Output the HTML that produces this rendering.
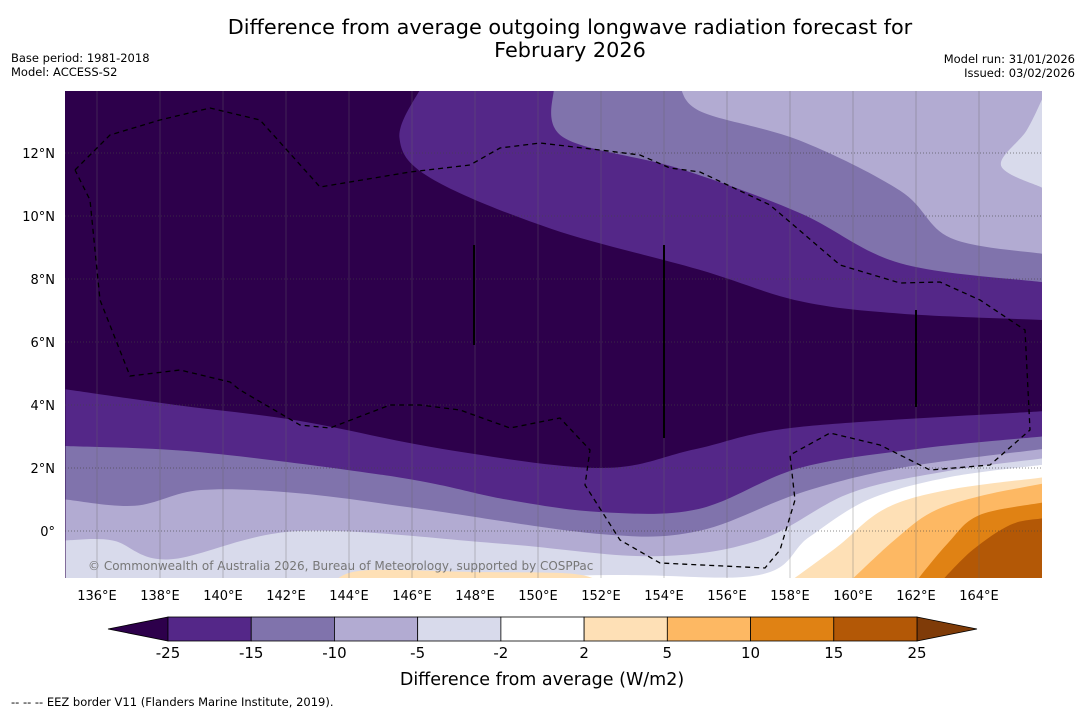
<!DOCTYPE html>
<html><head><meta charset="utf-8"><style>
body{margin:0;background:#fff;font-family:"Liberation Sans","DejaVu Sans",sans-serif;}
svg text{font-family:"DejaVu Sans","Liberation Sans",sans-serif;}
</style></head><body>
<svg id="s" width="1085" height="713" viewBox="0 0 1085 713" xmlns="http://www.w3.org/2000/svg">
<text x="570" y="34" font-size="20.8" text-anchor="middle">Difference from average outgoing longwave radiation forecast for</text>
<text x="570" y="57" font-size="20.8" text-anchor="middle">February 2026</text>
<text x="11" y="62" font-size="11.5">Base period: 1981-2018</text>
<text x="11" y="76" font-size="11.5">Model: ACCESS-S2</text>
<text x="1075" y="63" font-size="11.5" text-anchor="end">Model run: 31/01/2026</text>
<text x="1075" y="77" font-size="11.5" text-anchor="end">Issued: 03/02/2026</text>
<defs><clipPath id="mc"><rect x="65" y="91" width="977" height="487"/></clipPath></defs>
<g id="map" clip-path="url(#mc)">
<rect x="65" y="91" width="977" height="487" fill="#2d004b"/>
</g>
<g id="axes"></g>
<g id="cbar"></g>
<text x="542" y="685" font-size="17.5" text-anchor="middle">Difference from average (W/m2)</text>
<text x="11" y="706" font-size="11.5">--  --  -- EEZ border V11 (Flanders Marine Institute, 2019).</text>
</svg>
<script>
const NS="http://www.w3.org/2000/svg";
const lonTicks=[136,138,140,142,144,146,148,150,152,154,156,158,160,162,164];
const latTicks=[0,2,4,6,8,10,12];
const latTickLabels=["0°","2°N","4°N","6°N","8°N","10°N","12°N"];
const levels=[-25,-15,-10,-5,-2,2,5,10,15,25];
const levelColors=["#542788","#8073ac","#b2abd2","#d8daeb","#ffffff","#fee0b6","#fdb863","#e08214","#b35806"];
const lowColor="#2d004b", highColor="#7f3b08";
// southern contours (fill below) [lon,lat]
const sMinus25=[[135,4.5],[138.5,4.0],[142.4,3.5],[147,2.6],[152,2],[155,2.6],[158.3,3.3],[166,3.8]];
const sMinus15=[[135,2.7],[139.3,2.5],[145.6,1.7],[149,1.0],[152,0.6],[155.1,0.7],[158.3,2.0],[162,2.6],[166,3]];
const sMinus10=[[135,1],[137.2,0.8],[139.3,1.3],[142.4,1.2],[146.3,0.7],[152,-0.1],[155.1,0],[158.3,1.2],[161.5,2.0],[166,2.6]];
const sMinus5=[[135,-0.3],[136.5,-0.3],[138.3,-0.9],[142.4,0],[148.8,-0.4],[153.6,-0.8],[157,-0.3],[159.9,1.2],[163,1.9],[166,2.3]];
const sMinus2=[[141.8,-1.6],[152,-1.4],[157,-1.4],[158.6,-0.2],[160.5,1.0],[163,1.7],[166,2.1]];
const sPlus2a=[[143.5,-1.6],[144.5,-1.25],[148,-1.3],[151,-1.35],[152,-1.6]];
const sPlus2=[[158,-1.6],[159.5,-0.5],[161,0.7],[163,1.3],[166,1.7]];
const sPlus5=[[159.9,-1.6],[161.3,-0.3],[162.5,0.6],[164,1.1],[166,1.5]];
const sPlus10=[[162,-1.6],[163,-0.4],[164,0.5],[166,0.9]];
const sPlus15=[[162.8,-1.6],[163.8,-0.6],[165,0.2],[166,0.4]];
// northern contours (fill above)
const nMinus25=[[146.3,14.1],[145.6,12.5],[146.6,11.2],[150.4,9.6],[155.1,8.3],[158.3,7.3],[161.5,6.9],[166,6.7]];
const nMinus15=[[150.5,14.1],[150.8,12.5],[154.5,11.5],[158.3,10.1],[161.5,8.5],[166,7.9]];
const nMinus10=[[154.5,14.1],[155.2,13.3],[158.3,12.4],[161.5,10.8],[163.1,9.3],[166,8.8]];
const nMinus5=[[166,13.7],[165.5,12.7],[164.7,11.6],[166,10.9]];
const X=lon=>97+(lon-136)*31.5, Y=lat=>531-lat*31.5;
function el(t,a,p){const e=document.createElementNS(NS,t);for(const k in a)e.setAttribute(k,a[k]);p.appendChild(e);return e;}
const map=document.getElementById('map');
function smooth(pts){
  let d="M"+pts[0][0]+","+pts[0][1];
  for(let i=0;i<pts.length-1;i++){
    const p0=pts[i-1]||pts[i],p1=pts[i],p2=pts[i+1],p3=pts[i+2]||p2;
    const c1=[p1[0]+(p2[0]-p0[0])/6,p1[1]+(p2[1]-p0[1])/6];
    const c2=[p2[0]-(p3[0]-p1[0])/6,p2[1]-(p3[1]-p1[1])/6];
    d+=` C${c1[0]},${c1[1]} ${c2[0]},${c2[1]} ${p2[0]},${p2[1]}`;
  }
  return d;
}
function fillTo(line,color,name,edgeLat){
  const pts=line.map(p=>[X(p[0]),Y(p[1])]);
  const f=line[0],l=line[line.length-1];
  const d=smooth(pts)+` L${X(l[0])},${Y(edgeLat)} L${X(f[0])},${Y(edgeLat)} Z`;
  const e=el('path',{d:d,fill:color},map);
  
  
}
fillTo(sMinus25,levelColors[0],'south-band-minus25',-2);
fillTo(sMinus15,levelColors[1],'south-band-minus15',-2);
fillTo(sMinus10,levelColors[2],'south-band-minus10',-2);
fillTo(sMinus5,levelColors[3],'south-band-minus5',-2);
fillTo(sMinus2,levelColors[4],'south-band-minus2',-2);
fillTo(sPlus2a,levelColors[5],'south-band-plus2-west',-2);
fillTo(sPlus2,levelColors[5],'south-band-plus2',-2);
fillTo(sPlus5,levelColors[6],'south-band-plus5',-2);
fillTo(sPlus10,levelColors[7],'south-band-plus10',-2);
fillTo(sPlus15,levelColors[8],'south-band-plus15',-2);
fillTo(nMinus25,levelColors[0],'north-band-minus25',15);
fillTo(nMinus15,levelColors[1],'north-band-minus15',15);
fillTo(nMinus10,levelColors[2],'north-band-minus10',15);
fillTo(nMinus5,levelColors[3],'north-band-minus5',15);
lonTicks.forEach(lo=>{const g=el('line',{x1:X(lo),x2:X(lo),y1:91,y2:578,stroke:"#666",'stroke-width':0.6,opacity:0.6},map);

});
latTicks.forEach(la=>{const g=el('line',{x1:65,x2:1042,y1:Y(la),y2:Y(la),stroke:"#444",'stroke-width':0.7,'stroke-dasharray':'1,2',opacity:0.8},map);

});
const eez=el('polyline',{points:"75,170 110,135 160,120 210,108 260,120 320,187 410,172 470,165 500,148 540,143 600,150 640,155 670,168 700,172 770,205 840,265 900,283 940,282 980,300 1025,330 1030,430 990,465 930,470 880,445 830,433 790,455 795,500 780,550 765,568 660,563 620,540 585,485 590,450 560,418 510,428 460,410 420,405 390,405 330,428 300,425 240,390 230,382 180,370 130,376 100,300 90,200 75,170",fill:"none",stroke:"#000",'stroke-width':1.3,'stroke-dasharray':'5,4'},map);


[[474,245,345],[664,245,438],[916,310,407]].forEach(v=>{const l=el('line',{x1:v[0],x2:v[0],y1:v[1],y2:v[2],stroke:"#000",'stroke-width':2},map);

});
const cr=el('text',{x:88,y:570,'font-size':12,fill:"#777"},map);cr.textContent="© Commonwealth of Australia 2026, Bureau of Meteorology, supported by COSPPac";


const ax=document.getElementById('axes');
lonTicks.forEach(lo=>{const t=el('text',{x:X(lo),y:600,'font-size':13,'text-anchor':'middle'},ax);t.textContent=lo+"°E";

});
latTicks.forEach((la,i)=>{const t=el('text',{x:55,y:Y(la)+5,'font-size':13,'text-anchor':'end'},ax);t.textContent=latTickLabels[i];

});
const cb=document.getElementById('cbar');
const cx0=168,cw=(917-168)/9,cy=617,ch=24;
const lt=el('polygon',{points:`${cx0},${cy} 108,${cy+ch/2} ${cx0},${cy+ch}`,fill:lowColor,stroke:"#000",'stroke-width':0.8},cb);


const rt=el('polygon',{points:`917,${cy} 977,${cy+ch/2} 917,${cy+ch}`,fill:highColor,stroke:"#000",'stroke-width':0.8},cb);


levelColors.forEach((c,i)=>{const r=el('rect',{x:cx0+i*cw,y:cy,width:cw,height:ch,fill:c,stroke:"#000",'stroke-width':0.8},cb);

});
levels.forEach((v,i)=>{const t=el('text',{x:cx0+i*cw,y:658,'font-size':15,'text-anchor':'middle'},cb);t.textContent=v;

});
</script>
</body></html>
